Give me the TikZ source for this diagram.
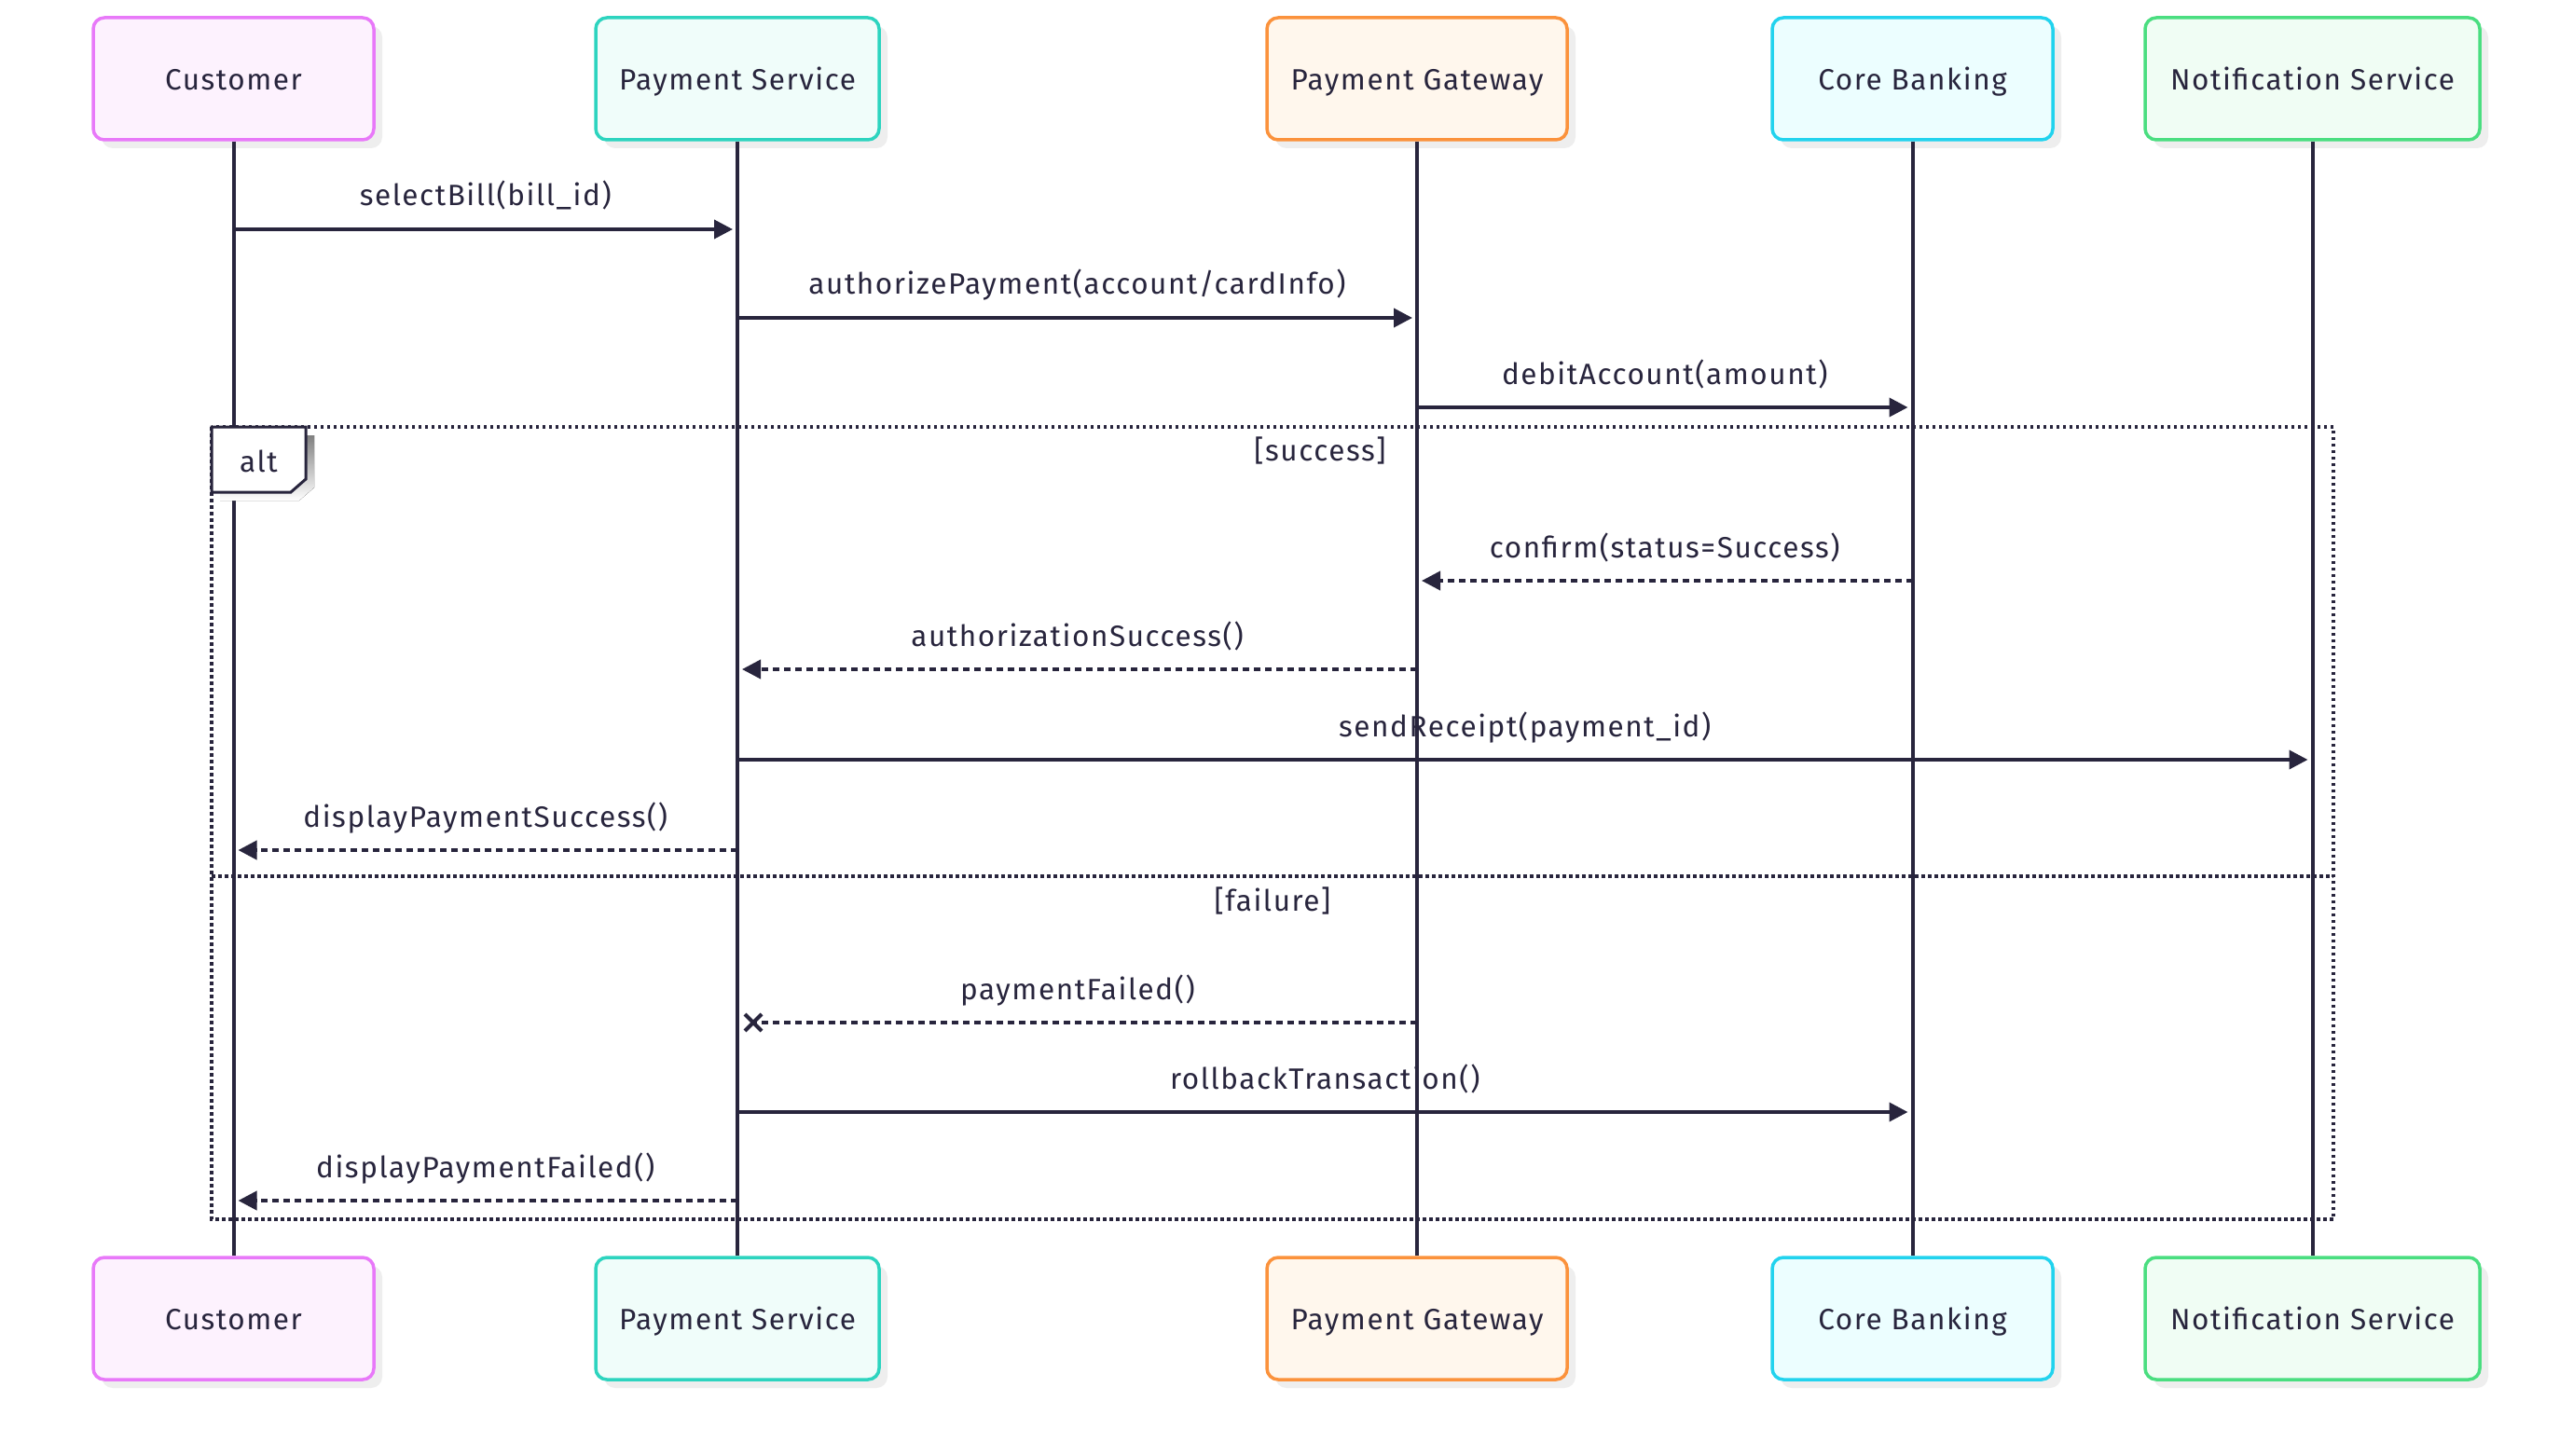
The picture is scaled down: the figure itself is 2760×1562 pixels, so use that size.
\documentclass[tikz,border=0pt]{standalone}
\usepackage{fontspec}
\setmainfont[LetterSpace=5]{Fira Sans}
\usetikzlibrary{arrows.meta,shadows}
\definecolor{ink}{HTML}{28253D}
\definecolor{shade}{HTML}{EEEEEE}
\definecolor{cuB}{HTML}{E879F9}\definecolor{cuF}{HTML}{FDF2FE}
\definecolor{psB}{HTML}{2DD4BF}\definecolor{psF}{HTML}{F0FDFA}
\definecolor{pgB}{HTML}{FB923C}\definecolor{pgF}{HTML}{FFF7ED}
\definecolor{cbB}{HTML}{22D3EE}\definecolor{cbF}{HTML}{ECFEFF}
\definecolor{nsB}{HTML}{4ADE80}\definecolor{nsF}{HTML}{F0FDF4}
\tikzset{
  actor/.style={draw=#1B, fill=#1F, line width=3.5pt, rounded corners=12pt,
    minimum height=131pt, inner sep=0pt, text=ink, text height=24pt, text depth=0pt,
    drop shadow={shadow xshift=9pt, shadow yshift=-9pt, fill=shade, opacity=1}},
  lifeline/.style={draw=ink, line width=4pt},
  msg/.style={draw=ink, line width=3.8pt, -{Triangle[length=20pt,width=20pt]}, shorten >=5pt},
  reply/.style={msg, dash pattern=on 7pt off 5pt},
  lbl/.style={text=ink, anchor=base, yshift=25pt},
  frame/.style={draw=ink, line width=3.5pt, dash pattern=on 3.5pt off 3.5pt},
}
\begin{document}
\begin{tikzpicture}[x=1pt,y=-1pt,font=\fontsize{31.5}{38}\selectfont]
\useasboundingbox[fill=white] (0,0) rectangle (2760,1562);
% participants
\node[actor=cu, minimum width=301pt] (cuT) at (250.5,84.5) {Customer};
\node[actor=ps, minimum width=304pt] (psT) at (791,84.5) {Payment Service};
\node[actor=pg, minimum width=322pt] (pgT) at (1520,84.5) {Payment Gateway};
\node[actor=cb, minimum width=301pt] (cbT) at (2051.5,84.5) {Core Banking};
\node[actor=ns, minimum width=359pt] (nsT) at (2480.5,84.5) {Notification Service};
\node[actor=cu, minimum width=301pt] (cuB) at (250.5,1414.5) {Customer};
\node[actor=ps, minimum width=304pt] (psB) at (791,1414.5) {Payment Service};
\node[actor=pg, minimum width=322pt] (pgB) at (1520,1414.5) {Payment Gateway};
\node[actor=cb, minimum width=301pt] (cbB) at (2051.5,1414.5) {Core Banking};
\node[actor=ns, minimum width=359pt] (nsB) at (2480.5,1414.5) {Notification Service};
% lifelines
\foreach \p in {cu,ps,pg,cb,ns}{\draw[lifeline] (\p T.south) -- (\p B.north);}
% alt frame
\draw[frame] (227,458) rectangle (2503,1308);
\draw[frame] (227,940) -- (2503,940);
\fill[shade] (236,467) -- (337,467) -- (337,523) -- (321,537) -- (236,537) -- cycle;
\draw[draw=ink, fill=white, line width=3pt] (227,458) -- (328,458) -- (328,514) -- (312,528) -- (227,528) -- cycle;
\node[text=ink] (alt) at (277.5,495) {alt};
\node[text=ink] (succ) at (1416,483) {[success]};
\node[text=ink] (fail) at (1365,966) {[failure]};
% message rows
\coordinate (r1) at (0,246);
\coordinate (r2) at (0,341);
\coordinate (r3) at (0,437);
\coordinate (r4) at (0,623);
\coordinate (r5) at (0,718);
\coordinate (r6) at (0,815);
\coordinate (r7) at (0,912);
\coordinate (r8) at (0,1097);
\coordinate (r9) at (0,1193);
\coordinate (r10) at (0,1288);
\draw[msg] (cuT |- r1) -- (psT |- r1) node[lbl, midway] {selectBill(bill\_id)};
\draw[msg] (psT |- r2) -- (pgT |- r2) node[lbl, midway] {authorizePayment(account/cardInfo)};
\draw[msg] (pgT |- r3) -- (cbT |- r3) node[lbl, midway] {debitAccount(amount)};
\draw[reply] (cbT |- r4) -- (pgT |- r4) node[lbl, midway] {confirm(status=Success)};
\draw[reply] (pgT |- r5) -- (psT |- r5) node[lbl, midway] {authorizationSuccess()};
\draw[msg] (psT |- r6) -- (nsT |- r6) node[lbl, midway] {sendReceipt(payment\_id)};
\draw[reply] (psT |- r7) -- (cuT |- r7) node[lbl, midway] {displayPaymentSuccess()};
\coordinate (xf) at ([xshift=17pt]psT |- r8);
\draw[draw=ink, line width=3.8pt, dash pattern=on 7pt off 5pt] (pgT |- r8) -- (xf) node[lbl, midway, xshift=-8pt] {paymentFailed()};
\draw[draw=ink, line width=4pt] ([shift={(-9pt,-9pt)}]xf) -- ([shift={(9pt,9pt)}]xf)
  ([shift={(-9pt,9pt)}]xf) -- ([shift={(9pt,-9pt)}]xf);
\draw[msg] (psT |- r9) -- (cbT |- r9) node[lbl, midway] {rollbackTransaction()};
\draw[reply] (psT |- r10) -- (cuT |- r10) node[lbl, midway] {displayPaymentFailed()};
\end{tikzpicture}
\end{document}
